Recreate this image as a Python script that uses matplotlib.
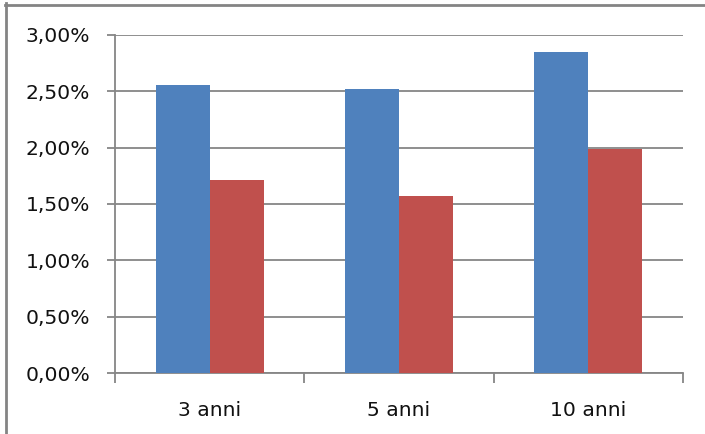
import matplotlib
matplotlib.use("Agg")
import matplotlib.pyplot as plt
from matplotlib.lines import Line2D
from matplotlib.ticker import FuncFormatter
import numpy as np

categories = ["3 anni", "5 anni", "10 anni"]
series_a = [2.552, 2.518, 2.844]   # %
series_b = [1.709, 1.567, 1.985]   # %
y_ticks = [0.0, 0.5, 1.0, 1.5, 2.0, 2.5, 3.0]

BLUE = "#4F81BD"
RED = "#C0504D"
GRID = "#868686"

plt.rcParams["font.family"] = ["DejaVu Sans"]

fig = plt.figure(figsize=(7.05, 4.34), dpi=100)
ax = fig.add_axes([0.1631, 0.1399, 0.8057, 0.7802])

x = np.arange(len(categories))
w = 1 / 3.5
ax.bar(x - w / 2, series_a, width=w, color=BLUE, zorder=3)
ax.bar(x + w / 2, series_b, width=w, color=RED, zorder=3)

ax.set_xlim(-0.5, len(categories) - 0.5)
ax.set_ylim(0, 3.0)

ax.set_yticks(y_ticks)
ax.yaxis.set_major_formatter(FuncFormatter(lambda v, p: f"{v:.2f}%".replace(".", ",")))
ax.grid(axis="y", color=GRID, linewidth=1.3, zorder=0)
ax.set_axisbelow(True)

# category labels at centres, tick marks at category boundaries
ax.set_xticks(x)
ax.set_xticklabels(categories)
ax.set_xticks(np.arange(-0.5, len(categories), 1.0), minor=True)
ax.tick_params(axis="x", which="major", length=0, pad=20, labelsize=14.6, colors="#111111")
ax.tick_params(axis="x", which="minor", length=7, width=1.3, color=GRID, direction="out")
ax.tick_params(axis="y", length=6, width=1.3, color=GRID, direction="out", pad=12,
               labelsize=14.6, labelcolor="#111111")

for side in ("top", "right"):
    ax.spines[side].set_visible(False)
for side in ("left", "bottom"):
    ax.spines[side].set_color(GRID)
    ax.spines[side].set_linewidth(1.3)

# chart-area frame (top and left edges)
fig.add_artist(Line2D([0.0075, 1.0], [0.9896, 0.9896], transform=fig.transFigure,
                      color="#848484", linewidth=2.0))
fig.add_artist(Line2D([0.0092, 0.0092], [0.0, 0.992], transform=fig.transFigure,
                      color="#848484", linewidth=2.0))

fig.savefig("out.png", dpi=100)
